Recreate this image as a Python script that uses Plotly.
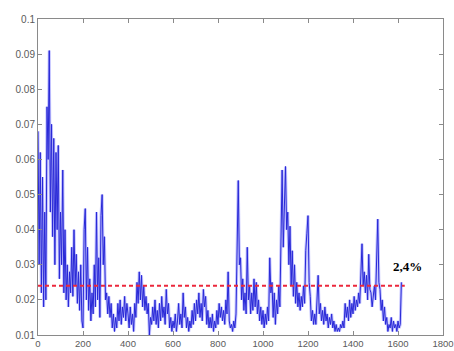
import plotly.graph_objects as go

# sample index step (x axis = sample number)
step = 5

seg_0000 = [0.068, 0.030, 0.062, 0.022, 0.055, 0.018, 0.045, 0.020, 0.075, 0.060,
            0.091, 0.045, 0.070, 0.038, 0.066, 0.030, 0.062, 0.040, 0.064, 0.026,
            0.045, 0.030, 0.057, 0.022, 0.040, 0.020, 0.030, 0.018, 0.028, 0.022,
            0.035, 0.021, 0.040, 0.024, 0.033, 0.019, 0.028, 0.017, 0.030, 0.014]
seg_0200 = [0.012, 0.040, 0.046, 0.020, 0.035, 0.017, 0.026, 0.014, 0.022, 0.016,
            0.030, 0.018, 0.045, 0.020, 0.032, 0.015, 0.044, 0.050, 0.030, 0.038,
            0.020, 0.022, 0.016, 0.021, 0.015, 0.019, 0.012, 0.016, 0.011, 0.015,
            0.012, 0.019, 0.014, 0.020, 0.013, 0.018, 0.015, 0.021, 0.014, 0.019]
seg_0400 = [0.016, 0.012, 0.018, 0.013, 0.016, 0.011, 0.019, 0.015, 0.025, 0.019,
            0.028, 0.020, 0.027, 0.018, 0.024, 0.017, 0.021, 0.016, 0.019, 0.010,
            0.015, 0.013, 0.018, 0.014, 0.020, 0.013, 0.017, 0.012, 0.019, 0.014,
            0.021, 0.015, 0.018, 0.013, 0.023, 0.016, 0.019, 0.012, 0.015, 0.011]
seg_0600 = [0.014, 0.012, 0.016, 0.011, 0.014, 0.019, 0.013, 0.016, 0.012, 0.022,
            0.015, 0.018, 0.012, 0.015, 0.011, 0.014, 0.012, 0.017, 0.013, 0.019,
            0.014, 0.020, 0.016, 0.022, 0.015, 0.019, 0.014, 0.023, 0.018, 0.021,
            0.013, 0.017, 0.012, 0.015, 0.012, 0.016, 0.011, 0.014, 0.012, 0.017]
seg_0800 = [0.013, 0.019, 0.015, 0.018, 0.014, 0.017, 0.013, 0.020, 0.016, 0.028,
            0.014, 0.012, 0.013, 0.011, 0.014, 0.012, 0.016, 0.034, 0.054, 0.030,
            0.032, 0.020, 0.026, 0.017, 0.022, 0.016, 0.035, 0.020, 0.024, 0.016,
            0.022, 0.017, 0.026, 0.018, 0.025, 0.016, 0.020, 0.014, 0.018, 0.013]
seg_1000 = [0.017, 0.012, 0.016, 0.013, 0.018, 0.014, 0.032, 0.022, 0.025, 0.015,
            0.022, 0.013, 0.020, 0.016, 0.024, 0.018, 0.040, 0.057, 0.035, 0.048,
            0.058, 0.040, 0.045, 0.030, 0.041, 0.024, 0.034, 0.021, 0.030, 0.019,
            0.025, 0.018, 0.022, 0.017, 0.021, 0.018, 0.024, 0.019, 0.034, 0.039]
seg_1200 = [0.044, 0.025, 0.021, 0.014, 0.017, 0.013, 0.016, 0.013, 0.019, 0.027,
            0.016, 0.019, 0.014, 0.017, 0.013, 0.018, 0.014, 0.016, 0.012, 0.015,
            0.013, 0.016, 0.012, 0.014, 0.011, 0.013, 0.011, 0.012, 0.011, 0.013,
            0.012, 0.014, 0.012, 0.019, 0.015, 0.018, 0.014, 0.020, 0.015, 0.019]
seg_1400 = [0.016, 0.021, 0.017, 0.020, 0.018, 0.022, 0.019, 0.030, 0.036, 0.024,
            0.028, 0.022, 0.027, 0.020, 0.033, 0.023, 0.022, 0.018, 0.021, 0.024,
            0.020, 0.030, 0.043, 0.025, 0.023, 0.017, 0.020, 0.014, 0.018, 0.013,
            0.015, 0.011, 0.013, 0.012, 0.015, 0.011, 0.014, 0.012, 0.013, 0.011,
            0.014, 0.012, 0.013, 0.025]

values = seg_0000 + seg_0200 + seg_0400 + seg_0600 + seg_0800 + seg_1000 + seg_1200 + seg_1400
samples = [i * step for i in range(len(values))]

threshold = 0.024
threshold_label = "2,4%"
threshold_x = [0, 1630]

x_ticks = [0, 200, 400, 600, 800, 1000, 1200, 1400, 1600, 1800]
y_ticks = [0.01, 0.02, 0.03, 0.04, 0.05, 0.06, 0.07, 0.08, 0.09, 0.1]
y_ticktext = ["0.01", "0.02", "0.03", "0.04", "0.05", "0.06", "0.07", "0.08", "0.09", "0.1"]

fig = go.Figure()
fig.add_trace(go.Scatter(x=samples, y=values, mode="lines",
                         line=dict(color="rgba(120,120,255,0.45)", width=3),
                         hoverinfo="skip", showlegend=False))
fig.add_trace(go.Scatter(x=samples, y=values, mode="lines",
                         line=dict(color="rgb(40,40,215)", width=1),
                         showlegend=False))
fig.add_trace(go.Scatter(x=threshold_x, y=[threshold, threshold], mode="lines",
                         line=dict(color="rgb(235,40,60)", width=2, dash="4px,3px"),
                         showlegend=False))
fig.add_annotation(x=1640, y=0.0294, text="<b>" + threshold_label + "</b>",
                   showarrow=False, xanchor="center", yanchor="middle",
                   font=dict(family="Liberation Serif", size=13, color="black"))

axis_common = dict(showgrid=False, zeroline=False, showline=True, linecolor="#8a8a8a",
                   linewidth=1, mirror="ticks", ticks="inside", ticklen=4, automargin=False,
                   tickcolor="#8a8a8a")

fig.update_xaxes(range=[0, 1800], tickvals=x_ticks,
                 tickfont=dict(family="Liberation Sans", size=9.5, color="#5a5a5a"), **axis_common)
fig.update_yaxes(range=[0.01, 0.1], tickvals=y_ticks, ticktext=y_ticktext,
                 tickfont=dict(family="Liberation Sans", size=10, color="#5a5a5a"), **axis_common)

fig.update_layout(width=454, height=351, margin=dict(l=38, r=11, t=19, b=16),
                  plot_bgcolor="white", paper_bgcolor="white")

fig.write_html("out.html", config={"displayModeBar": False},
               post_script="document.body.style.margin='0';document.body.style.overflow='hidden';")
